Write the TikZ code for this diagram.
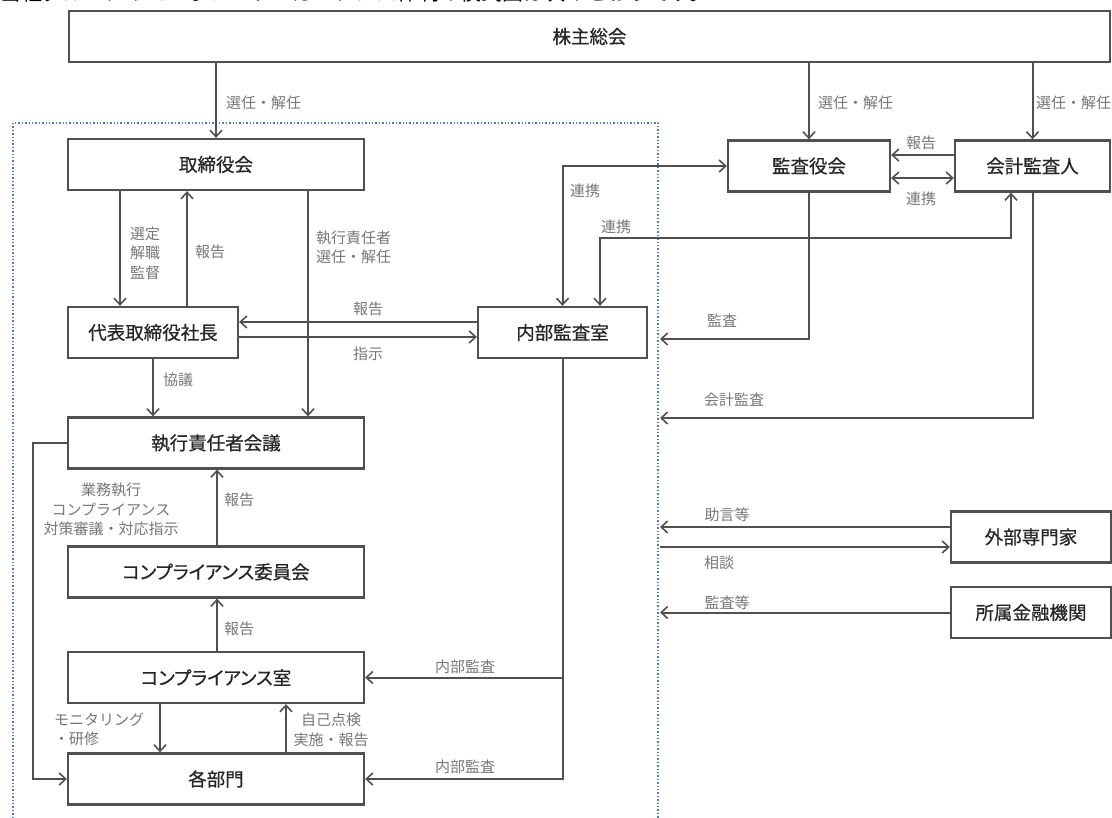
\documentclass[tikz,border=0pt]{standalone}
\usepackage{fontspec}
\setmainfont{Noto Sans CJK JP}
\newfontfamily\boxfont[RawFeature=+palt,FakeBold=0.6]{Noto Sans CJK JP}
\usetikzlibrary{arrows.meta,calc}
\definecolor{ln}{HTML}{505050}
\definecolor{bt}{HTML}{262626}
\definecolor{lt}{HTML}{777777}
\definecolor{fr}{HTML}{4A7BD0}
\begin{document}
\begin{tikzpicture}[x=1pt,y=-1pt,
  box/.style={draw=ln,line width=2.3pt,fill=white,minimum height=51pt,inner sep=0pt,text=bt,font=\boxfont\fontsize{18.5}{21}\selectfont},
  tip/.tip={Straight Barb[length=6.5pt,width=12pt,line width=1.6pt]},
  arr/.style={draw=ln,line width=2pt,-tip},
  darr/.style={draw=ln,line width=2pt,tip-tip},
  lab/.style={text=lt,font=\fontsize{15}{19.5}\selectfont,inner sep=0pt,align=center},
  frame/.style={draw=fr,line width=1.4pt,dotted}
]
\useasboundingbox[fill=white] (0,0) rectangle (1112,818);
\begin{scope}
\clip (0,0) rectangle (1112,818);
\node[anchor=base west,inner sep=0pt,font=\fontsize{21}{24}\selectfont] (hd) at (0,1) {当社グループのコーポレート・ガバナンス体制の模式図は次のとおりです。};
\end{scope}

% frame
\draw[frame] (13,818) -- (13,123) -- (658,123) -- (658,818);
\coordinate (f1) at (660,339);
\coordinate (f2) at (660,418);
\coordinate (f3) at (660,527);
\coordinate (f4) at (660,547);
\coordinate (f5) at (660,612.5);

% boxes
\node[box,minimum width=1041pt] (sh) at (589.5,36.5) {株主総会};
\node[box,minimum width=296pt] (tb) at (216,164.5) {取締役会};
\node[box,minimum width=170pt] (ceo) at (153,332.5) {代表取締役社長};
\node[box,minimum width=296pt] (exe) at (216,443) {執行責任者会議};
\node[box,minimum width=296pt] (cc) at (216,572) {コンプライアンス委員会};
\node[box,minimum width=296pt] (cr) at (216,677.5) {コンプライアンス室};
\node[box,minimum width=296pt] (bu) at (216,779) {各部門};
\node[box,minimum width=169pt] (ia) at (562.5,332.5) {内部監査室};
\node[box,minimum width=162pt] (kan) at (809,166) {監査役会};
\node[box,minimum width=155pt] (acc) at (1032.5,166) {会計監査人};
\node[box,minimum width=160pt] (ext) at (1031,537) {外部専門家};
\node[box,minimum width=160pt] (fin) at (1031,612.5) {所属金融機関};

% shareholders
\draw[arr] (tb.north |- sh.south) -- (tb.north);
\draw[arr] (kan.north |- sh.south) -- (kan.north);
\draw[arr] (acc.north |- sh.south) -- (acc.north);
\node[lab,anchor=west] (l1) at (226,103) {選任・解任};
\node[lab,anchor=west] (l2) at (818,103) {選任・解任};
\node[lab,anchor=west] (l3) at (1036,103) {選任・解任};

% board - ceo
\draw[arr] (120,0 |- tb.south) -- (120,0 |- ceo.north);
\draw[arr] (187,0 |- ceo.north) -- (187,0 |- tb.south);
\node[lab] (l4) at (145,253) {選定\\解職\\監督};
\node[lab,anchor=west] (l5) at (195,252) {報告};
\draw[arr] (308,0 |- tb.south) -- (308,0 |- exe.north);
\node[lab,anchor=west,align=left] (l6) at (316,247.5) {執行責任者\\選任・解任};

% ceo - internal audit
\draw[arr] (ia.west |- 0,322) -- (ceo.east |- 0,322);
\draw[arr] (ceo.east |- 0,337) -- (ia.west |- 0,337);
\node[lab] (l7) at (368,309) {報告};
\node[lab] (l8) at (368,354) {指示};

% ceo - exe
\draw[arr] (ceo.south) -- (ceo.south |- exe.north);
\node[lab,anchor=west] (l9) at (163,380) {協議};

% exe left loop
\draw[arr] (exe.west) -- (33,0 |- exe.west) -- (33,0 |- bu.west) -- (bu.west);
\node[lab] (l10) at (111,509.5) {業務執行\\コンプライアンス\\対策審議・対応指示};

% compliance chain
\draw[arr] (217,0 |- cc.north) -- (217,0 |- exe.south);
\node[lab,anchor=west] (l11) at (224,500) {報告};
\draw[arr] (217,0 |- cr.north) -- (217,0 |- cc.south);
\node[lab,anchor=west] (l12) at (224,629) {報告};
\draw[arr] (160,0 |- cr.south) -- (160,0 |- bu.north);
\node[lab,anchor=west,align=left] (l13) at (54,729.5) {モニタリング\\・研修};
\draw[arr] (286,0 |- bu.north) -- (286,0 |- cr.south);
\node[lab] (l14) at (331,730) {自己点検\\実施・報告};

% internal audit down
\draw[arr] (ia.south) |- (bu.east);
\draw[arr] (ia.south |- cr.east) -- (cr.east);
\node[lab] (l15) at (465,667) {内部監査};
\node[lab] (l16) at (465,767) {内部監査};

% renkei
\draw[darr] (ia.north) |- (kan.west);
\node[lab] (l17) at (585,191) {連携};
\draw[darr] (600,0 |- ia.north) -- (600,238) -- (1011,238) -- (1011,0 |- acc.south);
\node[lab] (l18) at (616,227) {連携};
\draw[arr] (acc.west |- 0,155) -- (kan.east |- 0,155);
\node[lab] (l19) at (921,143) {報告};
\draw[darr] (kan.east |- 0,178) -- (acc.west |- 0,178);
\node[lab] (l20) at (921,199) {連携};

% audits to frame
\draw[arr] (kan.south) |- (f1);
\node[lab] (l21) at (722,321) {監査};
\draw[arr] (acc.south) |- (f2);
\node[lab] (l22) at (734,400) {会計監査};

% external
\draw[arr] (ext.west |- f3) -- (f3);
\node[lab] (l23) at (727,515) {助言等};
\draw[arr] (f4) -- (ext.west |- f4);
\node[lab] (l24) at (719,563) {相談};
\draw[arr] (fin.west) -- (f5);
\node[lab] (l25) at (727,603) {監査等};
\end{tikzpicture}
\end{document}
